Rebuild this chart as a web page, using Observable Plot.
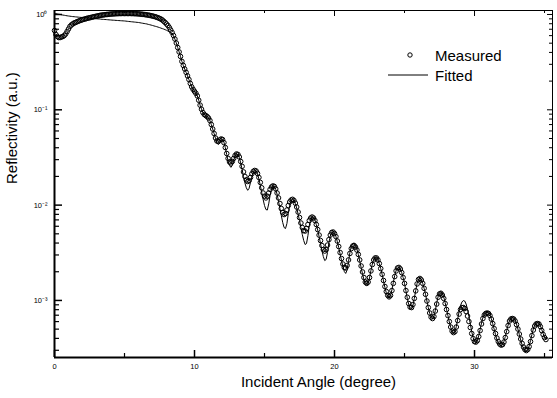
<!DOCTYPE html>
<html><head><meta charset="utf-8">
<script src="https://cdn.jsdelivr.net/npm/d3@7"></script>
<script src="https://cdn.jsdelivr.net/npm/@observablehq/plot@0.6"></script>
<style>body{margin:0;background:#fff}</style>
</head><body><div id="chart"></div>
<script>
// Reflectivity sampled every 0.1 degree from 0.0 to 35.1 degrees
const angleStep = 0.1;
const measured = [
0.679,0.617,0.588,0.573,0.573,0.581,0.588,0.602,0.625,0.663,
0.704,0.748,0.776,0.795,0.814,0.824,0.838,0.850,0.861,0.871,
0.882,0.891,0.899,0.908,0.917,0.923,0.930,0.939,0.946,0.953,
0.960,0.966,0.974,0.981,0.986,0.990,0.995,1.000,1.002,1.006,
1.010,1.012,1.015,1.017,1.019,1.021,1.022,1.023,1.024,1.024,
1.024,1.024,1.024,1.024,1.024,1.023,1.022,1.021,1.019,1.017,
1.015,1.011,1.007,1.004,1.000,0.995,0.990,0.984,0.979,0.971,
0.964,0.955,0.946,0.935,0.923,0.910,0.895,0.876,0.850,0.824,
0.795,0.767,0.730,0.688,0.647,0.602,0.553,0.502,0.450,0.405,
0.363,0.322,0.292,0.268,0.247,0.227,0.208,0.189,0.174,0.164,
0.156,0.149,0.140,0.126,0.112,0.1015,0.0937,0.0893,0.0871,0.0850,
0.0820,0.0772,0.0701,0.0629,0.0564,0.0506,0.0471,0.0465,0.0482,0.0494,
0.0488,0.0453,0.0402,0.0348,0.0309,0.0284,0.0277,0.0287,0.0309,0.0332,
0.0344,0.0340,0.0320,0.0287,0.0255,0.0223,0.0200,0.0184,0.0177,0.0181,
0.0195,0.0213,0.0226,0.0231,0.0228,0.0215,0.0195,0.0173,0.0152,0.0134,
0.0124,0.0119,0.0124,0.0134,0.0146,0.0155,0.0159,0.0157,0.0148,0.0134,
0.0119,0.0104,0.00921,0.00836,0.00797,0.00816,0.00888,0.00990,0.0108,0.0113,
0.0115,0.0112,0.0105,0.00955,0.00846,0.00741,0.00649,0.00582,0.00541,0.00535,
0.00568,0.00626,0.00689,0.00732,0.00750,0.00732,0.00689,0.00626,0.00554,0.00485,
0.00425,0.00377,0.00342,0.00330,0.00342,0.00381,0.00435,0.00485,0.00516,0.00522,
0.00503,0.00468,0.00420,0.00368,0.00318,0.00275,0.00241,0.00222,0.00219,0.00233,
0.00266,0.00311,0.00350,0.00372,0.00377,0.00363,0.00338,0.00304,0.00266,0.00230,
0.00199,0.00174,0.00156,0.00151,0.00156,0.00174,0.00204,0.00238,0.00266,0.00279,
0.00279,0.00266,0.00244,0.00216,0.00188,0.00162,0.00140,0.00124,0.00113,0.00109,
0.00113,0.00127,0.00151,0.00178,0.00204,0.00219,0.00222,0.00214,0.00196,0.00174,
0.00151,0.00127,0.00108,0.000928,0.000852,0.000842,0.000906,0.00105,0.00126,0.00149,
0.00166,0.00170,0.00164,0.00151,0.00134,0.00116,0.000986,0.000842,0.000738,0.000669,
0.000646,0.000678,0.000774,0.000917,0.00108,0.00117,0.00119,0.00114,0.00105,0.000928,
0.000803,0.000694,0.000601,0.000526,0.000477,0.000460,0.000471,0.000526,0.000615,0.000720,
0.000803,0.000842,0.000842,0.000822,0.000765,0.000686,0.000601,0.000520,0.000450,0.000398,
0.000370,0.000366,0.000379,0.000418,0.000483,0.000566,0.000646,0.000703,0.000729,0.000738,
0.000729,0.000694,0.000638,0.000572,0.000507,0.000450,0.000403,0.000370,0.000349,0.000340,
0.000344,0.000366,0.000408,0.000471,0.000545,0.000608,0.000638,0.000646,0.000638,0.000608,
0.000558,0.000501,0.000444,0.000394,0.000354,0.000324,0.000306,0.000298,0.000306,0.000328,
0.000370,0.000428,0.000489,0.000539,0.000566,0.000572,0.000566,0.000532,0.000483,0.000439,
0.000408,0.000389
];
const fitted = [
1.024,1.019,1.012,1.005,1.000,0.993,0.986,0.981,0.974,0.969,
0.964,0.960,0.955,0.950,0.948,0.944,0.941,0.938,0.934,0.932,
0.930,0.928,0.924,0.921,0.919,0.917,0.913,0.910,0.908,0.905,
0.901,0.899,0.897,0.894,0.890,0.888,0.886,0.884,0.881,0.878,
0.876,0.873,0.871,0.869,0.867,0.865,0.863,0.861,0.859,0.857,
0.855,0.852,0.848,0.845,0.842,0.839,0.836,0.833,0.830,0.827,
0.824,0.819,0.814,0.809,0.804,0.800,0.795,0.787,0.781,0.774,
0.767,0.759,0.752,0.745,0.737,0.729,0.720,0.711,0.703,0.693,
0.683,0.671,0.659,0.645,0.626,0.595,0.553,0.502,0.450,0.405,
0.363,0.322,0.292,0.268,0.247,0.227,0.208,0.189,0.174,0.164,
0.156,0.149,0.140,0.126,0.112,0.1015,0.0937,0.0893,0.0871,0.0850,
0.0820,0.0772,0.0701,0.0629,0.0564,0.0500,0.0453,0.0432,0.0453,0.0482,
0.0488,0.0459,0.0402,0.0340,0.0290,0.0261,0.0249,0.0261,0.0294,0.0328,
0.0344,0.0340,0.0316,0.0277,0.0237,0.0200,0.0171,0.0152,0.0143,0.0150,
0.0173,0.0200,0.0221,0.0231,0.0228,0.0213,0.0188,0.0161,0.0136,0.0115,
0.00990,0.00899,0.00888,0.0103,0.0127,0.0148,0.0159,0.0157,0.0146,0.0130,
0.0110,0.00921,0.00778,0.00657,0.00582,0.00568,0.00641,0.00816,0.0100,0.0112,
0.0115,0.0112,0.0104,0.00932,0.00806,0.00689,0.00582,0.00491,0.00425,0.00386,
0.00395,0.00479,0.00610,0.00706,0.00750,0.00741,0.00698,0.00626,0.00548,0.00468,
0.00395,0.00334,0.00289,0.00262,0.00269,0.00318,0.00405,0.00474,0.00516,0.00528,
0.00509,0.00468,0.00415,0.00359,0.00307,0.00262,0.00227,0.00201,0.00192,0.00209,
0.00256,0.00318,0.00368,0.00395,0.00400,0.00381,0.00346,0.00304,0.00259,0.00222,
0.00190,0.00166,0.00149,0.00144,0.00151,0.00172,0.00206,0.00241,0.00269,0.00282,
0.00282,0.00269,0.00244,0.00216,0.00188,0.00160,0.00137,0.00120,0.00109,0.00105,
0.00112,0.00129,0.00154,0.00183,0.00206,0.00219,0.00222,0.00214,0.00196,0.00174,
0.00151,0.00126,0.00105,0.000906,0.000832,0.000822,0.000884,0.00105,0.00127,0.00151,
0.00168,0.00172,0.00166,0.00151,0.00134,0.00116,0.000986,0.000842,0.000729,0.000662,
0.000638,0.000678,0.000783,0.000939,0.00110,0.00121,0.00124,0.00120,0.00109,0.000950,
0.000812,0.000694,0.000594,0.000520,0.000471,0.000450,0.000466,0.000532,0.000638,0.000765,
0.000884,0.000962,0.000998,0.000986,0.000917,0.000803,0.000678,0.000566,0.000471,0.000408,
0.000370,0.000361,0.000379,0.000424,0.000495,0.000580,0.000662,0.000720,0.000746,0.000755,
0.000746,0.000711,0.000646,0.000572,0.000501,0.000439,0.000389,0.000357,0.000340,0.000336,
0.000344,0.000370,0.000418,0.000483,0.000552,0.000615,0.000654,0.000662,0.000654,0.000623,
0.000566,0.000501,0.000439,0.000384,0.000340,0.000313,0.000295,0.000291,0.000302,0.000332,
0.000379,0.000439,0.000501,0.000552,0.000580,0.000586,0.000580,0.000545,0.000495,0.000450,
0.000414,0.000389
];
const xMajor = [0, 10, 20, 30];
const xMinor = [5, 15, 25, 35];
const yMajor = [1, 0.1, 0.01, 0.001];
const yMajorLabels = ["10⁰", "10⁻¹", "10⁻²", "10⁻³"];
const yMinor = [0.0003,0.0004,0.0005,0.0006,0.0007,0.0008,0.0009,
  0.002,0.003,0.004,0.005,0.006,0.007,0.008,0.009,
  0.02,0.03,0.04,0.05,0.06,0.07,0.08,0.09,
  0.2,0.3,0.4,0.5,0.6,0.7,0.8,0.9];
const seriesNames = ["Measured", "Fitted"];
const xTitle = "Incident Angle (degree)";
const yTitle = "Reflectivity (a.u.)";
const xDomain = [0, 35.57];
const yDomain = [2.52e-4, 1.101];

const W = 557, H = 398, mL = 54, mR = 5, mT = 10, mB = 41;
const pw = W - mL - mR, ph = H - mT - mB;
const font = "'Liberation Sans', Arial, Helvetica, sans-serif";

const measuredData = measured.map((r, i) => ({angle: +(i * angleStep).toFixed(1), r}));
const fittedData = fitted.map((r, i) => ({angle: +(i * angleStep).toFixed(1), r}));

const svg = Plot.plot({
  width: W, height: H,
  marginLeft: mL, marginRight: mR, marginTop: mT, marginBottom: mB,
  style: {fontFamily: font, background: "#fff", color: "#000", overflow: "visible"},
  x: {domain: xDomain, axis: null},
  y: {type: "log", domain: yDomain, axis: null},
  marks: [
    Plot.dot(measuredData, {x: "angle", y: "r", r: 2.3, stroke: "#000", strokeWidth: 1, fill: "none"}),
    Plot.line(fittedData, {x: "angle", y: "r", stroke: "#000", strokeWidth: 1}),
    Plot.frame({stroke: "#000", strokeWidth: 1}),
    Plot.ruleX([xDomain[0]], {stroke: "#000", strokeWidth: 2}),
    Plot.ruleY([yDomain[0]], {stroke: "#000", strokeWidth: 2}),
    Plot.tickY(yMajor, {y: d => d, insetRight: pw - 8, stroke: "#000", strokeWidth: 1.5}),
    Plot.tickY(yMinor, {y: d => d, insetRight: pw - 5, stroke: "#000", strokeWidth: 1.2}),
    Plot.tickY(yMajor, {y: d => d, insetLeft: pw - 5, stroke: "#000", strokeWidth: 1}),
    Plot.tickY(yMinor, {y: d => d, insetLeft: pw - 3, stroke: "#000", strokeWidth: 1}),
    Plot.tickX(xMajor, {x: d => d, insetTop: ph - 7, stroke: "#000", strokeWidth: 1.5}),
    Plot.tickX(xMinor, {x: d => d, insetTop: ph - 4, stroke: "#000", strokeWidth: 1.2}),
    Plot.tickX(xMajor, {x: d => d, insetBottom: ph - 6, stroke: "#000", strokeWidth: 1}),
    Plot.tickX(xMinor, {x: d => d, insetBottom: ph - 3, stroke: "#000", strokeWidth: 1}),
    Plot.axisX(xMajor, {tickSize: 0, tickPadding: 6, fontSize: 7.5, label: null, tickFormat: d => String(d)}),
    Plot.axisY(yMajor, {tickSize: 0, tickPadding: 7, fontSize: 7.5, label: null, tickFormat: d => yMajorLabels[yMajor.indexOf(d)]}),
    Plot.text([yTitle], {text: d => d, frameAnchor: "left", rotate: -90, dx: -42, fontSize: 15}),
    Plot.text([xTitle], {text: d => d, frameAnchor: "bottom", dy: 29, dx: 15, fontSize: 15})
  ]
});

const g = d3.select(svg).append("g").attr("font-family", font).attr("font-size", 15).attr("fill", "#000").attr("text-anchor", "start");
g.append("circle").attr("cx", 410).attr("cy", 55).attr("r", 2.2).attr("fill", "none").attr("stroke", "#000").attr("stroke-width", 1);
g.append("text").attr("x", 435).attr("y", 60.5).attr("text-anchor", "start").text(seriesNames[0]);
g.append("line").attr("x1", 388).attr("x2", 428).attr("y1", 75).attr("y2", 75).attr("stroke", "#000").attr("stroke-width", 1);
g.append("text").attr("x", 435).attr("y", 80.5).attr("text-anchor", "start").text(seriesNames[1]);

document.getElementById("chart").appendChild(svg);
</script>
</body></html>
